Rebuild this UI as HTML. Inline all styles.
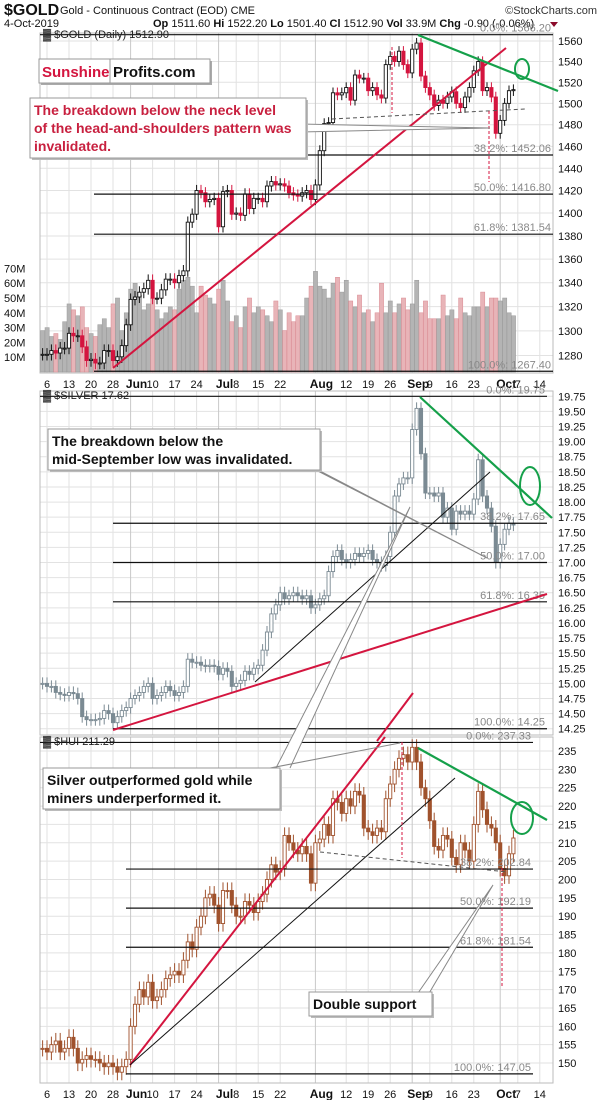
<!DOCTYPE html>
<html><head><meta charset="utf-8">
<style>
html,body{margin:0;padding:0;background:#fff;}
svg{display:block;font-family:"Liberation Sans",sans-serif;}
</style></head>
<body>
<svg id="chart" width="600" height="1100" viewBox="0 0 600 1100" xmlns="http://www.w3.org/2000/svg">
  <rect width="600" height="1100" fill="#fff"/>
  <g id="grid"></g>
  <g id="header">
    <text x="4" y="15" font-size="16" font-weight="bold" fill="#111">$GOLD</text>
    <text x="60" y="14" font-size="11" fill="#111">Gold - Continuous Contract (EOD) CME</text>
    <text x="4" y="27" font-size="11" fill="#111">4-Oct-2019</text>
    <text x="153" y="27" font-size="11" fill="#111"><tspan font-weight="bold">Op</tspan> 1511.60 <tspan font-weight="bold">Hi</tspan> 1522.20 <tspan font-weight="bold">Lo</tspan> 1501.40 <tspan font-weight="bold">Cl</tspan> 1512.90 <tspan font-weight="bold">Vol</tspan> 33.9M <tspan font-weight="bold">Chg</tspan> -0.90 (-0.06%)</text>
    <polygon points="550,22 558,22 554,27" fill="#8b0b2b"/>
    <text x="597" y="14" font-size="11" fill="#333" text-anchor="end">©StockCharts.com</text>
  </g>
  <g id="panels"></g>
  <g id="marks"></g>
  <g id="overlay"></g>
</svg>
<script>
// ---------- DATA ----------
const tradingDays = ["May3","May6","May7","May8","May9","May10","May13","May14","May15","May16","May17","May20","May21","May22","May23","May24","May28","May29","May30","May31","Jun3","Jun4","Jun5","Jun6","Jun7","Jun10","Jun11","Jun12","Jun13","Jun14","Jun17","Jun18","Jun19","Jun20","Jun21","Jun24","Jun25","Jun26","Jun27","Jun28","Jul1","Jul2","Jul3","Jul5","Jul8","Jul9","Jul10","Jul11","Jul12","Jul15","Jul16","Jul17","Jul18","Jul19","Jul22","Jul23","Jul24","Jul25","Jul26","Jul29","Jul30","Jul31","Aug1","Aug2","Aug5","Aug6","Aug7","Aug8","Aug9","Aug12","Aug13","Aug14","Aug15","Aug16","Aug19","Aug20","Aug21","Aug22","Aug23","Aug26","Aug27","Aug28","Aug29","Aug30","Sep3","Sep4","Sep5","Sep6","Sep9","Sep10","Sep11","Sep12","Sep13","Sep16","Sep17","Sep18","Sep19","Sep20","Sep23","Sep24","Sep25","Sep26","Sep27","Sep30","Oct1","Oct2","Oct3","Oct4"];
const goldClose = [1281,1281,1284,1282,1286,1286,1298,1296,1296,1287,1276,1277,1274,1274,1284,1284,1276,1279,1288,1305,1326,1328,1332,1335,1342,1327,1327,1334,1343,1343,1340,1346,1350,1392,1399,1420,1418,1410,1412,1413,1388,1419,1420,1399,1400,1398,1417,1404,1413,1413,1410,1424,1428,1425,1426,1424,1418,1416,1415,1418,1420,1412,1425,1456,1481,1482,1510,1508,1510,1515,1503,1527,1524,1524,1512,1515,1508,1505,1537,1545,1540,1550,1537,1529,1552,1558,1526,1515,1508,1498,1503,1500,1506,1511,1500,1496,1506,1515,1531,1540,1512,1515,1506,1472,1484,1500,1512,1513];
const goldVolumeM = [28,30,24,26,22,34,46,42,38,44,30,26,24,32,36,30,46,50,28,40,56,60,52,42,46,50,42,36,40,44,42,56,62,64,58,40,58,52,50,46,56,62,48,34,38,30,44,50,40,44,42,38,34,48,42,28,40,34,38,38,50,58,68,58,56,50,60,64,54,62,48,44,52,40,42,34,40,60,40,48,40,46,50,42,46,62,40,48,36,36,36,52,38,42,36,50,40,38,44,44,54,44,50,50,48,50,40,38];
const goldTicks = [1280,1300,1320,1340,1360,1380,1400,1420,1440,1460,1480,1500,1520,1540,1560];
const volTicks = [10,20,30,40,50,60,70];
const goldFib = [1566.20,1452.06,1416.80,1381.54,1267.40];
const goldFibPct = ["0.0%","38.2%","50.0%","61.8%","100.0%"];

const silverClose = [15.00,14.95,14.95,14.85,14.82,14.80,14.85,14.83,14.75,14.45,14.40,14.40,14.40,14.42,14.55,14.50,14.35,14.45,14.55,14.60,14.75,14.80,14.85,14.95,15.00,14.75,14.80,14.85,14.95,14.88,14.80,14.85,14.95,15.40,15.35,15.35,15.30,15.28,15.30,15.28,15.15,15.25,15.20,14.95,15.00,15.05,15.20,15.15,15.25,15.30,15.55,15.85,16.15,16.30,16.50,16.40,16.45,16.50,16.45,16.40,16.45,16.25,16.30,16.40,16.45,16.85,17.10,17.20,17.05,17.00,17.05,17.15,17.10,17.15,17.20,17.05,17.00,16.95,17.10,17.50,18.10,18.30,18.40,18.40,19.20,19.55,18.80,18.15,18.15,18.10,18.15,17.75,17.90,17.55,17.85,17.80,17.85,17.80,18.05,18.70,18.10,17.90,17.60,17.00,17.30,17.55,17.65,17.62];
const silverTicks = [14.25,14.50,14.75,15.00,15.25,15.50,15.75,16.00,16.25,16.50,16.75,17.00,17.25,17.50,17.75,18.00,18.25,18.50,18.75,19.00,19.25,19.50,19.75];
const silverFib = [19.75,17.65,17.00,16.35,14.25];
const silverFibPct = ["0.0%","38.2%","50.0%","61.8%","100.0%"];

const huiClose = [154,153,155,156,153,154,157,154,150,151,152,151,151,150,149,150,149,147.5,149,151,160,166,170,168,172,167,168,170,173,174,175,174,178,183,181,187,190,195,196,193,188,197,197,193,190,190,194,193,191,194,196,200,204,202,203,212,210,208,207,209,207,199,210,211,215,212,222,221,218,222,220,224,223,214,213,212,214,213,222,226,230,233,234,232,236,232,225,222,216,209,208,212,211,206,204,210,208,205,215,224,219,215,214,210,203,201,207,211.3];
const huiTicks = [150,155,160,165,170,175,180,185,190,195,200,205,210,215,220,225,230,235];
const huiFib = [237.33,202.84,192.19,181.54,147.05];
const huiFibPct = ["0.0%","38.2%","50.0%","61.8%","100.0%"];

const dateLabels = ["6","13","20","28","Jun","10","17","24","Jul","8","15","22","Aug","12","19","26","Sep","9","16","23","Oct","7","14"];
const dateLabelIdx = [1,6,11,16,20,25,30,35,40,44,49,54,62,69,74,79,84,88,93,98,104,108,113];
const dateLabelBold = [0,0,0,0,1,0,0,0,1,0,0,0,1,0,0,0,1,0,0,0,1,0,0];

// ---------- SCALES ----------
const AX_L = 40, AX_R = 553;
function xOf(i){ return 42.6 + i*4.4; }
function gy(p){ return 41 + 1590*Math.log(1560/p); }
function vy(v){ return 372 - v*1.48; }
function sy(p){ return 396.3 + (19.75-p)*60.44; }
function hy(p){ return 751 + (235-p)*3.671; }

const NS = "http://www.w3.org/2000/svg";
function mk(tag, attrs, parent){
  const e = document.createElementNS(NS, tag);
  for (const k in attrs) e.setAttribute(k, attrs[k]);
  parent.appendChild(e);
  return e;
}
const grid = document.getElementById('grid');
const panels = document.getElementById('panels');
const marks = document.getElementById('marks');
const overlay = document.getElementById('overlay');

const panelDefs = [
  {top:33, bot:373, ticks:goldTicks, y:gy, fmt:v=>String(v), name:'gold'},
  {top:391, bot:735, ticks:silverTicks, y:sy, fmt:v=>v.toFixed(2), name:'silver'},
  {top:737, bot:1083, ticks:huiTicks, y:hy, fmt:v=>String(v), name:'hui'}
];

panelDefs.forEach(pd=>{
  // horizontal grid + right axis labels
  pd.ticks.forEach(t=>{
    const yy = pd.y(t);
    const gl = mk('line',{x1:AX_L,x2:AX_R,y1:yy,y2:yy,stroke:'#e2e2e2','stroke-width':1},grid);
    
    
    const tl = mk('text',{x:558,y:yy+4,'font-size':11,fill:'#111'},panels);
    tl.textContent = pd.fmt(t);
    
    
  });
  // vertical grid
  dateLabelIdx.forEach((ix,k)=>{
    const xx = xOf(ix);
    const vl = mk('line',{x1:xx,x2:xx,y1:pd.top,y2:pd.bot,stroke:dateLabelBold[k]?'#c8c8c8':'#e2e2e2','stroke-width':1},grid);
    
    
  });
  const fr = mk('rect',{x:AX_L,y:pd.top,width:AX_R-AX_L,height:pd.bot-pd.top,fill:'none',stroke:'#bbb','stroke-width':1},panels);
  
  
});

// date axes
[383+1, 1092+2].forEach((yy,ai)=>{
  dateLabels.forEach((lab,k)=>{
    const t = mk('text',{x:xOf(dateLabelIdx[k])+ (dateLabelBold[k]?6:0),y:yy+4,'font-size':dateLabelBold[k]?12:11,'font-weight':dateLabelBold[k]?'bold':'normal','text-anchor':'middle',fill:'#111'},panels);
    t.textContent = lab;
    
    
  });
});

// volume
volTicks.forEach(v=>{
  const t = mk('text',{x:4,y:vy(v)+4,'font-size':11,fill:'#111'},panels);
  t.textContent = v+'M';
  
  
});
goldVolumeM.forEach((v,i)=>{
  const down = i>0 && goldClose[i] < goldClose[i-1];
  const r = mk('rect',{x:xOf(i)-2,y:vy(v),width:4.2,height:372-vy(v),fill:down?'#e8b4b8':'#b4b4b4',stroke:down?'#d98a92':'#999','stroke-width':0.5},marks);
  
  
});

// candles
function drawCandles(closes, yf, upStroke, downFill, wick, name){
  closes.forEach((c,i)=>{
    const o = i>0 ? closes[i-1] : c;
    const hi = Math.max(o,c)+wick, lo = Math.min(o,c)-wick;
    const x = xOf(i);
    const down = c < o;
    const col = down ? downFill : upStroke;
    const w = mk('line',{x1:x,x2:x,y1:yf(hi),y2:yf(lo),stroke:col,'stroke-width':1},marks);
    
    
    const yTop = yf(Math.max(o,c)), yBot = yf(Math.min(o,c));
    const b = mk('rect',{x:x-1.6,y:yTop,width:3.2,height:Math.max(1,yBot-yTop),fill:down?downFill:'#fff',stroke:col,'stroke-width':0.9},marks);
    
    
  });
}
drawCandles(goldClose, gy, '#111', '#d4153f', 5, 'gold');
drawCandles(silverClose, sy, '#7b8a93', '#7b8a93', 0.1, 'silver');
drawCandles(huiClose, hy, '#a0522d', '#a0522d', 2.2, 'hui');

// fib lines
function drawFib(vals, pcts, yf, x0, x1, name){
  vals.forEach((v,k)=>{
    const yy = yf(v);
    const l = mk('line',{x1:(k===0?AX_L:x0),x2:x1,y1:yy,y2:yy,stroke:'#111','stroke-width':1.2},overlay);
    
    
    const t = mk('text',{x:x1-2,y:yy-3,'font-size':11,fill:'#888','text-anchor':'end'},overlay);
    t.textContent = pcts[k]+': '+v.toFixed(2);
    
    
  });
}
drawFib(goldFib, goldFibPct, gy, 94, 553, 'gold');
drawFib(silverFib, silverFibPct, sy, 113, 547, 'silver');
drawFib(huiFib, huiFibPct, hy, 126, 533, 'hui');

function line(x1,y1,x2,y2,st,w,name,dash){
  const a = {x1:x1,y1:y1,x2:x2,y2:y2,stroke:st,'stroke-width':w};
  if (dash) a['stroke-dasharray']=dash;
  const l = mk('line',a,overlay);
  
  
  return l;
}
function ellipse(cx,cy,rx,ry,name){
  const e = mk('ellipse',{cx:cx,cy:cy,rx:rx,ry:ry,fill:'none',stroke:'#15a04a','stroke-width':2},overlay);
  
  
}
// gold overlays
line(113,368,506,48,'#d4153f',2,'gold-red-trendline');
line(418,35,558,91,'#15a04a',2.2,'gold-green-trendline');
ellipse(522,69,7,10,'gold-green-circle');
line(332,119,525,109,'#555',1,'gold-neckline-dashed','4,3');
line(392,47,392,113,'#d4153f',1,'gold-red-dashed-vertical','3,2');
line(489,111,489,182,'#d4153f',1,'gold-red-dashed-vertical','3,2');
// silver overlays
line(113,730,547,594,'#d4153f',2,'silver-red-trendline');
line(255,682,490,472,'#111',1,'silver-black-trendline');
line(420,397,552,518,'#15a04a',2.2,'silver-green-trendline');
ellipse(530,486,10,19,'silver-green-circle');
line(377,741,413,693,'#d4153f',2,'hui-red-trendline-extension');
// hui overlays
line(130,1065,385,737,'#d4153f',2,'hui-red-trendline');
line(130,1065,455,778,'#111',1,'hui-black-trendline');
line(418,748,547,820,'#15a04a',2.2,'hui-green-trendline');
ellipse(522,818,11,16,'hui-green-circle');
line(320,852,507,872,'#555',1,'hui-support-dashed','4,3');
line(402,742,402,858,'#d4153f',1,'hui-red-dashed-vertical','3,2');
line(502,868,502,988,'#d4153f',1,'hui-red-dashed-vertical','3,2');

// callout pointers (double gray lines)
function pointer(pts,name){
  const p = mk('polyline',{points:pts,fill:'#fff',stroke:'#888','stroke-width':1},overlay);
  
  
}
pointer('300,124 490,128 300,132','neck-callout-pointer');
pointer('312,468 487,558 318,470','silver-callout-pointer');
pointer('276,768 410,507 290,768','hui-callout-pointer-to-silver');
pointer('250,772 400,743 270,768','hui-callout-pointer-to-peak');
pointer('418,993 493,885 428,995','double-support-pointer');

// labels in panels
function ptxt(x,y,s,name,sz){
  const t = mk('text',{x:x,y:y,'font-size':sz||11,fill:'#222'},overlay);
  t.textContent = s;
  
  
}
ptxt(43,38,'\u2593 $GOLD (Daily) 1512.90','gold-legend');
ptxt(43,399,'\u2593 $SILVER 17.62','silver-legend');
ptxt(43,745,'\u2593 $HUI 211.29','hui-legend');

// callout boxes
function box(x,y,w,h,lines,color,sz,name){
  const g = mk('g',{},overlay);
  
  
  mk('rect',{x:x+2,y:y+2,width:w,height:h,fill:'#bbb'},g);
  mk('rect',{x:x,y:y,width:w,height:h,fill:'#fff',stroke:'#999','stroke-width':1},g);
  lines.forEach((s,k)=>{
    const t = mk('text',{x:x+4,y:y+sz+3+k*(sz+4),'font-size':sz,'font-weight':'bold',fill:color},g);
    t.textContent = s;
  });
}
box(30,98,276,60,['The breakdown below the neck level','of the head-and-shoulders pattern was','invalidated.'],'#c8203f',14,'neck-level-callout');
box(48,429,272,41,['The breakdown below the','mid-September low was invalidated.'],'#111',14,'silver-callout');
box(43,768,237,41,['Silver outperformed gold while','miners underperformed it.'],'#111',14,'hui-callout');
box(309,992,123,24,['Double support'],'#111',14,'double-support-callout');

// logo
const lg = mk('g',{},overlay);


mk('rect',{x:41,y:61,width:171,height:24,fill:'#aaa'},lg);
mk('rect',{x:39,y:59,width:171,height:24,fill:'#fff',stroke:'#999'},lg);
mk('line',{x1:110,y1:59,x2:110,y2:83,stroke:'#999'},lg);
const l1 = mk('text',{x:42,y:77,'font-size':15,'font-weight':'bold',fill:'#d4153f'},lg); l1.textContent='Sunshine';
const l2 = mk('text',{x:113,y:77,'font-size':15,'font-weight':'bold',fill:'#111'},lg); l2.textContent='Profits.com';
</script>
</body></html>
